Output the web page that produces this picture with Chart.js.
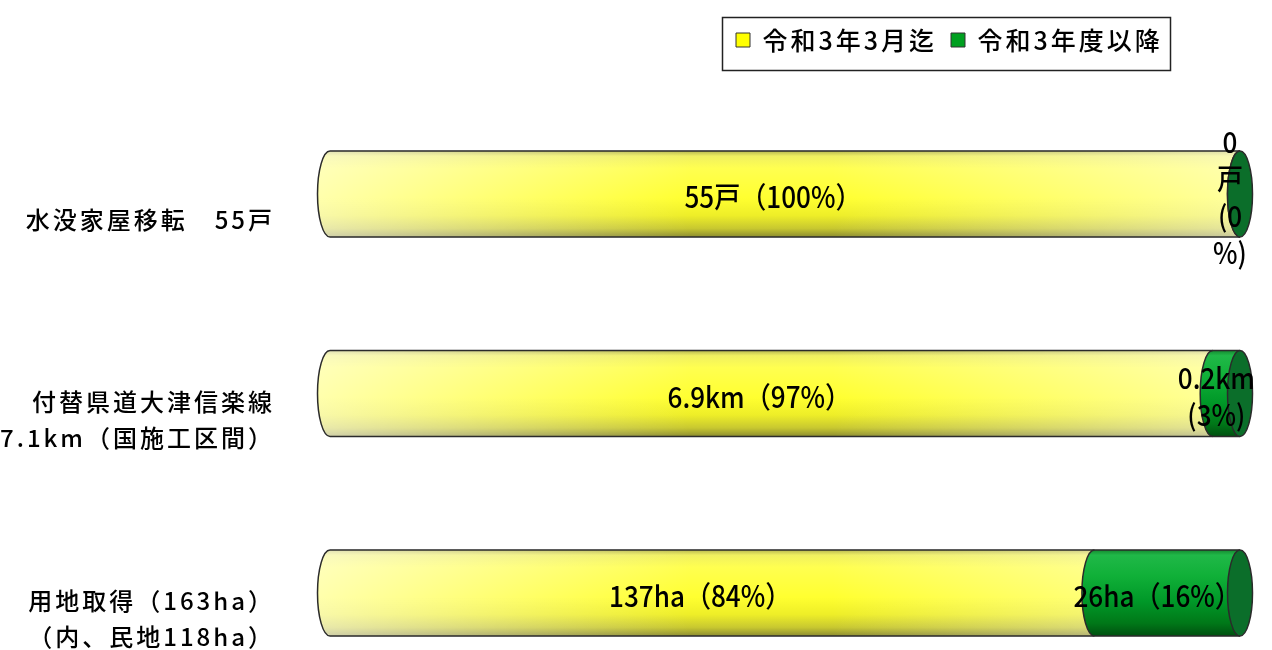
<!DOCTYPE html>
<html>
<head>
<meta charset="utf-8">
<script src="https://cdn.jsdelivr.net/npm/chart.js@4.4.1/dist/chart.umd.min.js"></script>
<style>
html, body { margin: 0; padding: 0; background: #ffffff; }
#wrap { width: 1272px; height: 650px; }
</style>
</head>
<body>
<div id="wrap"><canvas id="c" width="1272" height="650"></canvas></div>
<script>
// ---- data ----
const categories = [
  '水没家屋移転　55戸',
  ['付替県道大津信楽線', '7.1km（国施工区間）'],
  ['用地取得（163ha）', '（内、民地118ha）']
];
const seriesNames = ['令和3年3月迄', '令和3年度以降'];
const donePct = [100, 97, 84];
const remainPct = [0, 3, 16];
const doneLabels = [['55戸（100%）'], ['6.9km（97%）'], ['137ha（84%）']];
const remainLabels = [['0', '戸', '(0', '%)'], ['0.2km', '(3%)'], ['26ha（16%）']];

const FONT = '"Noto Sans CJK JP", "Noto Sans", sans-serif';
Chart.defaults.font.family = FONT;

const spacingPlugin = {
  id: 'spacing',
  beforeLayout(chart) { chart.ctx.letterSpacing = '3px'; },
  afterLayout(chart) {
    const lg = chart.legend;
    if (lg) {
      lg.left = 722; lg.right = 1200; lg.top = 13.5; lg.bottom = 70;
      lg.width = lg.right - lg.left; lg.height = lg.bottom - lg.top;
    }
  },
  beforeDraw(chart) { chart.ctx.letterSpacing = '3px'; },
  afterDraw(chart) {
    const lg = chart.legend;
    const ctx = chart.ctx;
    ctx.save();
    ctx.strokeStyle = '#222';
    ctx.lineWidth = 1.5;
    ctx.strokeRect(lg.left + 0.5, lg.top + 4, 448, 53);
    ctx.restore();
  }
};

const cylinderPlugin = {
  id: 'cylinder',
  afterDatasetsDraw(chart) {
    const ctx = chart.ctx;
    const ca = chart.chartArea;
    const m0 = chart.getDatasetMeta(0), m1 = chart.getDatasetMeta(1);
    const rx = 12.5;
    ctx.save();
    ctx.letterSpacing = '0px';
    m0.data.forEach((b0, i) => {
      const b1 = m1.data[i];
      const p0 = b0.getProps(['x', 'y', 'base', 'height'], true);
      const p1 = b1.getProps(['x', 'y', 'base', 'height'], true);
      const cy = p0.y, ry = p0.height / 2, top = cy - ry, bot = cy + ry;
      const x0 = p0.base, x1 = p0.x, xs1 = p1.base, x2 = p1.x;
      const body = (xs, xe) => {
        ctx.beginPath();
        ctx.moveTo(xs, top); ctx.lineTo(xe, top); ctx.lineTo(xe, bot); ctx.lineTo(xs, bot);
        ctx.ellipse(xs, cy, rx, ry, 0, Math.PI / 2, Math.PI * 1.5);
        ctx.closePath();
      };
      // yellow body
      const gy = ctx.createLinearGradient(0, top, 0, bot);
      gy.addColorStop(0, '#B8B850');
      gy.addColorStop(0.06, '#F0F060');
      gy.addColorStop(0.2, '#FFFF50');
      gy.addColorStop(0.55, '#FFFF30');
      gy.addColorStop(0.75, '#EEEE28');
      gy.addColorStop(0.9, '#C8C830');
      gy.addColorStop(1, '#8C8C30');
      body(x0, x1);
      ctx.fillStyle = gy; ctx.fill();
      const gw = ctx.createLinearGradient(ca.left - rx, 0, ca.right + rx, 0);
      gw.addColorStop(0, 'rgba(255,255,255,0.6)');
      gw.addColorStop(0.4, 'rgba(255,255,255,0)');
      gw.addColorStop(0.55, 'rgba(255,255,255,0)');
      gw.addColorStop(1, 'rgba(255,255,255,0.55)');
      ctx.fillStyle = gw; ctx.fill();
      // green body
      const gg = ctx.createLinearGradient(0, top, 0, bot);
      gg.addColorStop(0, '#158A30');
      gg.addColorStop(0.06, '#20B848');
      gg.addColorStop(0.3, '#10B038');
      gg.addColorStop(0.6, '#009828');
      gg.addColorStop(0.85, '#007818');
      gg.addColorStop(1, '#005010');
      body(xs1, x2);
      ctx.fillStyle = gg; ctx.fill();
      // outlines
      ctx.strokeStyle = '#2b2b2b';
      ctx.lineWidth = 1.5;
      ctx.beginPath();
      ctx.moveTo(x0, top); ctx.lineTo(x2, top);
      ctx.moveTo(x0, bot); ctx.lineTo(x2, bot);
      ctx.stroke();
      ctx.beginPath(); ctx.ellipse(x0, cy, rx, ry, 0, Math.PI / 2, Math.PI * 1.5); ctx.stroke();
      ctx.beginPath(); ctx.ellipse(xs1, cy, rx, ry, 0, Math.PI / 2, Math.PI * 1.5); ctx.stroke();
      // end face
      ctx.beginPath(); ctx.ellipse(x2, cy, rx, ry, 0, 0, Math.PI * 2);
      ctx.fillStyle = '#0B6E2A'; ctx.fill(); ctx.stroke();
      // labels
      const drawLabel = (lines, cx, cyy) => {
        ctx.font = '500 29px ' + FONT;
        ctx.fillStyle = '#000';
        ctx.textAlign = 'center';
        ctx.textBaseline = 'middle';
        const lh = 37;
        lines.forEach((t, k) => {
          const y = cyy + (k - (lines.length - 1) / 2) * lh;
          ctx.save();
          ctx.translate(cx, y);
          ctx.scale(0.9, 1);
          ctx.fillText(t, 0, 0);
          ctx.restore();
        });
      };
      drawLabel(doneLabels[i], (x0 + x1) / 2 - 12, cy + 3);
      drawLabel(remainLabels[i], (xs1 + x2) / 2 - 10, cy + 3);
    });
    ctx.restore();
  }
};

new Chart(document.getElementById('c'), {
  type: 'bar',
  data: {
    labels: categories,
    datasets: [
      { label: seriesNames[0], data: donePct, backgroundColor: '#FFFF00', borderColor: '#333333', borderWidth: 1, barThickness: 86, clip: false },
      { label: seriesNames[1], data: remainPct, backgroundColor: '#00A020', borderColor: '#333333', borderWidth: 1, barThickness: 86, clip: false }
    ]
  },
  options: {
    indexAxis: 'y',
    responsive: false,
    animation: false,
    devicePixelRatio: 1,
    layout: { padding: { top: 145, bottom: 57, left: 0, right: 32 } },
    plugins: {
      legend: {
        position: 'top',
        align: 'start',
        labels: { font: { family: FONT, size: 25, weight: '500' }, color: '#000', boxWidth: 14, boxHeight: 14, padding: 14 }
      },
      tooltip: { enabled: false }
    },
    scales: {
      x: { stacked: true, display: false, min: 0, max: 100 },
      y: {
        stacked: true,
        offset: false,
        grid: { display: false, drawTicks: false },
        border: { display: false },
        ticks: { font: { family: FONT, size: 24, weight: '500', lineHeight: 1.5 }, color: '#000', padding: 55, labelOffset: 26, autoSkip: false },
        afterFit(s) { s.width = 330; s.paddingTop = 0; s.paddingBottom = 0; }
      }
    }
  },
  plugins: [spacingPlugin, cylinderPlugin]
});
</script>
</body>
</html>
